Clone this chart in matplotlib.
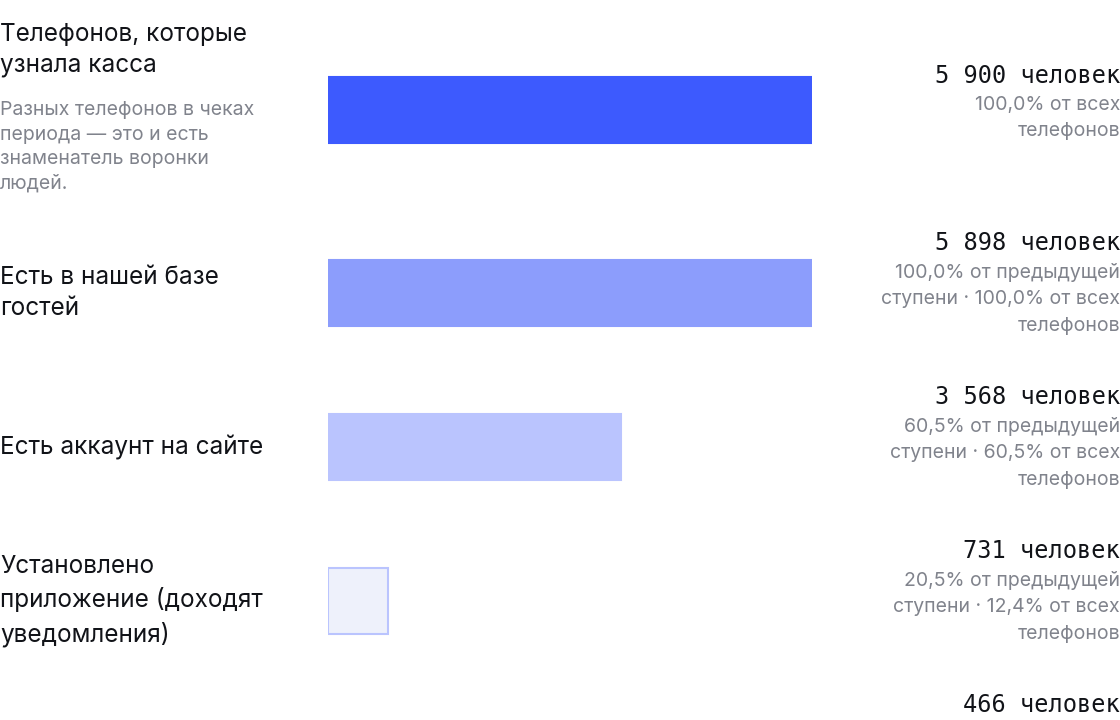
import matplotlib.pyplot as plt

# funnel steps
steps = ['Телефонов, которые\nузнала касса', 'Есть в нашей базе\nгостей', 'Есть аккаунт на сайте',
         'Установлено\nприложение (доходят\nуведомления)', 'Шаг 5']
counts = [5900, 5898, 3568, 731, 466]
notes = ['Разных телефонов в чеках\nпериода — это и есть\nзнаменатель воронки\nлюдей.', '', '', '', '']
shares = ['100,0% от всех\nтелефонов',
          '100,0% от предыдущей\nступени · 100,0% от всех\nтелефонов',
          '60,5% от предыдущей\nступени · 60,5% от всех\nтелефонов',
          '20,5% от предыдущей\nступени · 12,4% от всех\nтелефонов',
          '']
colors = ['#3d5afe', '#8c9dfc', '#bac4fe', '#eef1fb', '#f4f6fc']
edges = ['#3d5afe', '#8c9dfc', '#bac4fe', '#bac4fe', '#bac4fe']

W, H = 1120, 720
fig = plt.figure(figsize=(11.2, 7.2), dpi=100)
fig.patch.set_facecolor('white')

# text layer in pixel coordinates
tx = fig.add_axes([0, 0, 1, 1])
tx.set_xlim(0, W)
tx.set_ylim(H, 0)
tx.axis('off')

# bars layer
bx = fig.add_axes([328 / W, 0, 484 / W, 1])
bx.set_xlim(0, counts[0])
bx.set_ylim(H, 0)
bx.axis('off')

bar_y = [110, 293, 447, 601, 755]
bx.barh(bar_y, counts, height=66, left=0, color=colors, edgecolor=edges, linewidth=1.5)

sans = ['Inter', 'DejaVu Sans']
label_y = [50, 293, 447, 601, 755]
num_y = [76, 243, 397, 551, 705]
for i in range(len(steps)):
    if i < 4:
        tx.text(0, label_y[i], steps[i], family=sans, fontsize=17.5, color='#111318',
                va='center', ha='left', linespacing=1.45)
    if notes[i]:
        tx.text(0, 147, notes[i], family=sans, fontsize=14, color='#80838c',
                va='center', ha='left', linespacing=1.45)
    tx.text(W, num_y[i], f'{counts[i]:,}'.replace(',', ' ') + ' человек', family='DejaVu Sans Mono',
            fontsize=17, color='#111318', va='center', ha='right')
    if shares[i]:
        tx.text(W, num_y[i] + 20, shares[i], family=sans, fontsize=14, color='#80838c',
                va='top', ha='right', linespacing=1.6)

fig.savefig('out.png', dpi=100, facecolor='white')
